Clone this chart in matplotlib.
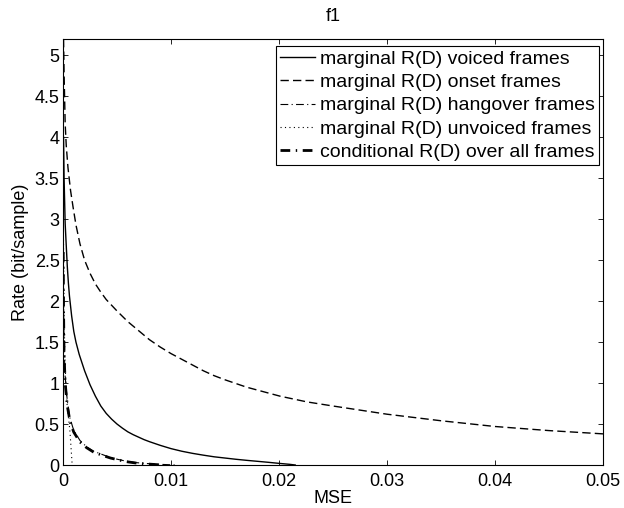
import matplotlib
matplotlib.use("Agg")
import matplotlib.pyplot as plt

plt.rcParams['font.family'] = ['Liberation Sans', 'DejaVu Sans']

# ---- data ----
voiced_D = [0.00005, 0.0001, 0.0002, 0.0003, 0.0004, 0.0005, 0.0006, 0.0008, 0.001,
            0.0012, 0.0015, 0.002, 0.0025, 0.003, 0.0035, 0.004, 0.0045, 0.005,
            0.0055, 0.006, 0.0065, 0.007, 0.0075, 0.008, 0.009, 0.010, 0.011, 0.012,
            0.013, 0.014, 0.015, 0.016, 0.017, 0.018, 0.019, 0.020, 0.021, 0.0215]
voiced_R = [4.0, 3.5, 2.95, 2.68, 2.42, 2.22, 2.06, 1.82, 1.63,
            1.5, 1.35, 1.15, 0.98, 0.84, 0.72, 0.63, 0.56, 0.50,
            0.45, 0.405, 0.37, 0.34, 0.31, 0.285, 0.24, 0.2, 0.168, 0.142,
            0.12, 0.10, 0.085, 0.07, 0.057, 0.045, 0.033, 0.02, 0.008, 0.0]

onset_D = [0.00005, 0.0001, 0.0002, 0.0003, 0.00046, 0.0007, 0.00093, 0.0012, 0.00157,
           0.002, 0.0025, 0.003, 0.0035, 0.004, 0.005, 0.006, 0.007, 0.008, 0.009,
           0.010, 0.011, 0.012, 0.013, 0.014, 0.015, 0.017, 0.0201, 0.0226, 0.025,
           0.03, 0.035, 0.04, 0.045, 0.05]
onset_R = [5.2, 4.78, 4.17, 3.9, 3.63, 3.35, 3.15, 2.93, 2.7,
           2.5, 2.34, 2.21, 2.11, 2.02, 1.88, 1.75, 1.64, 1.53, 1.44,
           1.36, 1.29, 1.22, 1.15, 1.09, 1.04, 0.95, 0.84, 0.77, 0.72,
           0.62, 0.54, 0.47, 0.42, 0.38]

hang_D = [0.00002, 0.00005, 0.0001, 0.0002, 0.0004, 0.00065, 0.001, 0.00157, 0.0022,
          0.0028, 0.0036, 0.0044, 0.0052, 0.0059, 0.0067, 0.0075, 0.009, 0.0105]
hang_R = [2.8, 2.0, 1.45, 1.08, 0.78, 0.57, 0.42, 0.3, 0.22,
          0.17, 0.13, 0.09, 0.065, 0.045, 0.03, 0.02, 0.008, 0.0]

unv_D = [0.00001, 0.00003, 0.0001, 0.0002, 0.00037, 0.00065, 0.0008, 0.00085]
unv_R = [4.0, 3.0, 1.8, 1.2, 0.75, 0.4, 0.1, 0.0]

cond_D = [0.00002, 0.00005, 0.0001, 0.0002, 0.0004, 0.00065, 0.001, 0.00157, 0.0022,
          0.0028, 0.0036, 0.0044, 0.0052, 0.0059, 0.0067, 0.0075, 0.0092]
cond_R = [2.6, 1.9, 1.35, 1.0, 0.72, 0.53, 0.4, 0.28, 0.21,
          0.16, 0.12, 0.085, 0.06, 0.04, 0.025, 0.015, 0.0]

labels = ['marginal R(D) voiced frames', 'marginal R(D) onset frames',
          'marginal R(D) hangover frames', 'marginal R(D) unvoiced frames',
          'conditional R(D) over all frames']
xticks = [0, 0.01, 0.02, 0.03, 0.04, 0.05]
xticklabels = ['0', '0.01', '0.02', '0.03', '0.04', '0.05']
yticks = [0, 0.5, 1, 1.5, 2, 2.5, 3, 3.5, 4, 4.5, 5]
yticklabels = ['0', '0.5', '1', '1.5', '2', '2.5', '3', '3.5', '4', '4.5', '5']

fig = plt.figure(figsize=(6.24, 5.08), dpi=100)
ax = fig.add_axes([63/624, (508-465)/508, 540/624, 426/508])

ax.plot(voiced_D, voiced_R, color='k', lw=1.0, linestyle='-', label=labels[0])
ax.plot(onset_D, onset_R, color='k', lw=1.0, linestyle=(0, (6, 3)), label=labels[1])
ax.plot(hang_D, hang_R, color='k', lw=0.8, linestyle=(0, (7, 3, 1, 3)), label=labels[2])
ax.plot(unv_D, unv_R, color='k', lw=0.8, linestyle=(0, (1, 3)), label=labels[3])
ax.plot(cond_D, cond_R, color='k', lw=2.0, linestyle=(0, (3.5, 2, 0.5, 2)), label=labels[4])

ax.set_xlim(0, 0.05)
ax.set_ylim(0, 5.2)
ax.set_xticks(xticks)
ax.set_xticklabels(xticklabels)
ax.set_yticks(yticks)
ax.set_yticklabels(yticklabels)
ax.tick_params(direction='in', length=3.6, width=0.6, top=True, right=True,
               labelsize=13, colors='k')
ax.tick_params(axis='x', pad=6)
ax.tick_params(axis='y', pad=2.5)
for s in ax.spines.values():
    s.set_linewidth(0.8)
    s.set_color('k')

ax.set_xlabel('MSE', fontsize=13)
ax.xaxis.set_label_coords(0.5, -0.058)
ax.set_ylabel('Rate (bit/sample)', fontsize=13, labelpad=4)
ax.set_title('f1', fontsize=13, pad=13)

leg = ax.legend(loc='upper right', bbox_to_anchor=((599-63)/540, (465-46)/426),
                borderaxespad=0, fontsize=14, handlelength=1.8, handletextpad=0.26,
                labelspacing=0.3, borderpad=0.2, fancybox=False, framealpha=1,
                edgecolor='k')
leg.get_frame().set_linewidth(0.8)

fig.savefig('out.png', dpi=100)
